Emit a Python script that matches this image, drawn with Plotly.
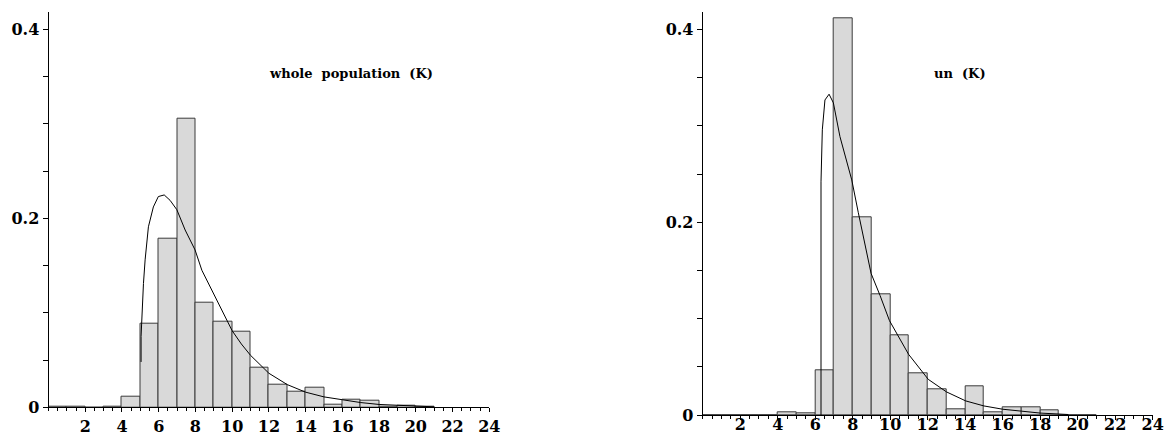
import plotly.graph_objects as go

# ---------------- data ----------------
bin_left = [0, 1, 2, 3, 4, 5, 6, 7, 8, 9, 10, 11, 12, 13, 14, 15, 16, 17, 18, 19, 20]
whole_freq = [0.001, 0.001, 0.0, 0.001, 0.011, 0.088, 0.178, 0.305, 0.111, 0.091,
              0.080, 0.042, 0.024, 0.017, 0.021, 0.003, 0.008, 0.007, 0.001, 0.002, 0.001]
un_freq = [0.0, 0.0, 0.0, 0.0, 0.0024, 0.0017, 0.046, 0.4115, 0.205, 0.1254,
           0.083, 0.0433, 0.027, 0.006, 0.0295, 0.0028, 0.0076, 0.0076, 0.0049, 0.0, 0.0]

whole_curve_x = [5.04, 5.04, 5.17, 5.26, 5.44, 5.71, 5.98, 6.3, 6.62, 6.99, 7.44, 7.98,
                 8.35, 8.8, 9.2, 9.71, 10.0, 10.5, 11.0, 12.0, 13.0, 14.0, 15.0, 16.0,
                 17.0, 18.0, 19.0, 20.0, 21.0]
whole_curve_y = [0.048, 0.075, 0.131, 0.156, 0.191, 0.212, 0.223, 0.2247, 0.219, 0.209,
                 0.1876, 0.1665, 0.145, 0.1277, 0.111, 0.091, 0.081, 0.067, 0.055, 0.036,
                 0.024, 0.016, 0.011, 0.008, 0.005, 0.003, 0.002, 0.001, 0.0005]

un_curve_x = [6.31, 6.31, 6.38, 6.52, 6.74, 6.97, 7.32, 7.95, 8.3, 8.98, 9.46, 9.96,
              10.98, 12.03, 13.0, 14.03, 15.0, 16.0, 17.0, 18.0, 19.0, 19.5]
un_curve_y = [0.0, 0.242, 0.296, 0.327, 0.333, 0.324, 0.289, 0.244, 0.21, 0.147, 0.124,
              0.098, 0.063, 0.037, 0.024, 0.0146, 0.0094, 0.006, 0.004, 0.002, 0.001, 0.0005]

x_tick_vals = [2, 4, 6, 8, 10, 12, 14, 16, 18, 20, 22, 24]
y_tick_vals = [0, 0.2, 0.4]
y_tick_text = ["0", "0.2", "0.4"]
titles = ["whole\u00a0 population\u00a0 (K)", "un\u00a0 (K)"]

# ---------------- figure ----------------
W, H = 1168, 436
FONT = dict(family="DejaVu Serif", size=16, color="black", weight="bold")
TFONT = dict(family="DejaVu Serif", size=13, color="black", weight="bold")

fig = go.Figure()

bar_style = dict(marker=dict(color="#d9d9d9", line=dict(color="#3a3a3a", width=1)),
                 width=1, offset=0, showlegend=False, hoverinfo="skip")

fig.add_trace(go.Bar(x=bin_left, y=whole_freq, xaxis="x", yaxis="y", **bar_style))
fig.add_trace(go.Scatter(x=whole_curve_x, y=whole_curve_y, mode="lines", xaxis="x", yaxis="y",
                         line=dict(color="black", width=1), showlegend=False, hoverinfo="skip"))
fig.add_trace(go.Bar(x=bin_left, y=un_freq, xaxis="x2", yaxis="y2", **bar_style))
fig.add_trace(go.Scatter(x=un_curve_x, y=un_curve_y, mode="lines", xaxis="x2", yaxis="y2",
                         line=dict(color="black", width=1), showlegend=False, hoverinfo="skip"))


def xaxis(domain, anchor, standoff):
    return dict(domain=domain, anchor=anchor, range=[0, 24], showline=True, linecolor="black",
                linewidth=1, showgrid=False, zeroline=False, tickmode="array",
                tickvals=x_tick_vals, ticks="outside", ticklen=4, tickcolor="black",
                ticklabelstandoff=standoff,
                minor=dict(tickmode="linear", tick0=0, dtick=0.5, ticks="outside", ticklen=3,
                           tickcolor="black", showgrid=False),
                tickfont=FONT, automargin=False, fixedrange=True)


def yaxis(domain, anchor, top):
    return dict(domain=domain, anchor=anchor, range=[0, top], showline=True, linecolor="black",
                linewidth=1, showgrid=False, zeroline=False, tickmode="array",
                tickvals=y_tick_vals, ticktext=y_tick_text, ticks="outside", ticklen=5,
                tickcolor="black",
                minor=dict(tickmode="linear", tick0=0, dtick=0.05, ticks="outside", ticklen=5,
                           tickcolor="black", showgrid=False),
                tickfont=FONT, automargin=False, fixedrange=True)


fig.update_layout(
    width=W, height=H,
    margin=dict(l=0, r=0, t=0, b=0),
    paper_bgcolor="white", plot_bgcolor="white",
    bargap=0, barmode="overlay",
    xaxis=xaxis([48.5 / W, 489.3 / W], "y", 0),
    yaxis=yaxis([(H - 407.3) / H, (H - 11.7) / H], "x", 0.4186),
    xaxis2=xaxis([702.7 / W, 1152.7 / W], "y2", -9),
    yaxis2=yaxis([(H - 415.0) / H, (H - 12.3) / H], "x2", 0.418),
    annotations=[
        dict(text=titles[0], x=351 / W, y=(H - 73) / H, xref="paper", yref="paper",
             showarrow=False, xanchor="center", yanchor="middle", font=TFONT),
        dict(text=titles[1], x=960 / W, y=(H - 73) / H, xref="paper", yref="paper",
             showarrow=False, xanchor="center", yanchor="middle", font=TFONT),
    ],
)

fig.write_html("out.html")
